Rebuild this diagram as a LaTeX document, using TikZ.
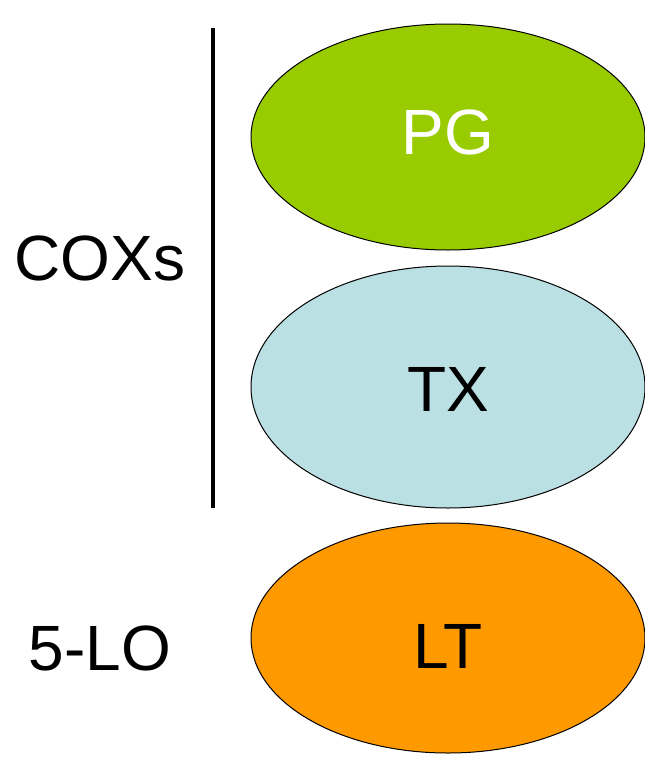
\documentclass[tikz,border=0pt]{standalone}
\usepackage{fontspec}
\setmainfont{Liberation Sans}
\usetikzlibrary{shapes.geometric}
\definecolor{pgc}{HTML}{99CC00}
\definecolor{txc}{HTML}{BBE0E3}
\definecolor{ltc}{HTML}{FF9900}
\begin{document}
\begin{tikzpicture}[x=1pt,y=-1pt,
  ell/.style={ellipse,draw=black,line width=1pt,inner sep=0pt},
  lbl/.style={font=\fontsize{64}{76}\selectfont}]
\useasboundingbox (0,0) rectangle (645,763);
\node[ell,fill=pgc,minimum width=394pt,minimum height=226pt] (pg) at (448,137) {};
\node[lbl,text=white] (pgt) at (448,132) {PG};
\node[ell,fill=txc,minimum width=394pt,minimum height=242pt] (tx) at (448,387) {};
\node[lbl] (txt) at (448,389) {TX};
\node[ell,fill=ltc,minimum width=394pt,minimum height=230pt] (lt) at (448,638) {};
\node[lbl] (ltt) at (448,646) {LT};
\node[lbl] (cox) at (100,258) {COXs};
\node[lbl] (lo) at (100,648) {5-LO};
\coordinate (a) at (213,28);
\coordinate (b) at (213,508);
\draw[line width=4pt] (a) -- (b);
\end{tikzpicture}
\end{document}
